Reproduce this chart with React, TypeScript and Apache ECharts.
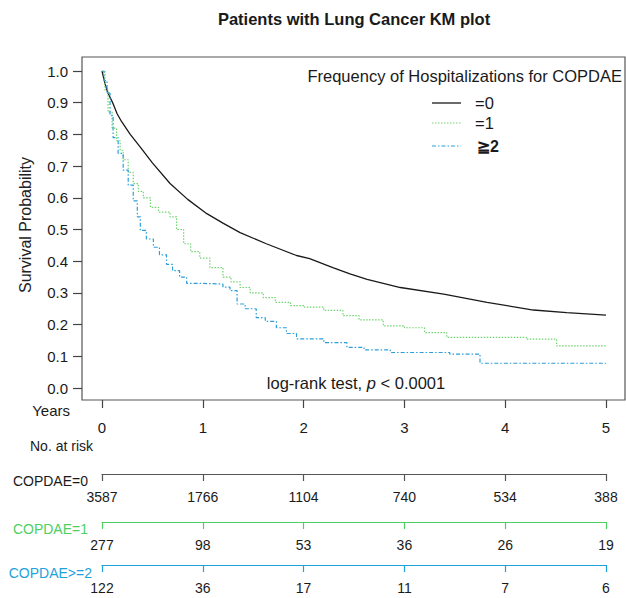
import React, { useEffect, useRef } from "react";
import * as echarts from "echarts";

// Kaplan-Meier curves
const tCopd0 = [0, 0.03, 0.06, 0.11, 0.15, 0.195, 0.28, 0.38, 0.5, 0.675, 0.85, 1.04, 1.2, 1.37, 1.63, 1.93, 2.06, 2.29, 2.46, 2.63, 2.96, 3.39, 3.82, 4.28, 4.61, 5.0];
const sCopd0 = [1.0, 0.96, 0.93, 0.897, 0.865, 0.84, 0.8, 0.76, 0.71, 0.645, 0.595, 0.55, 0.52, 0.49, 0.455, 0.418, 0.408, 0.38, 0.36, 0.343, 0.317, 0.296, 0.27, 0.246, 0.238, 0.23];

const tCopd1 = [0, 0.03, 0.06, 0.1, 0.145, 0.18, 0.21, 0.26, 0.31, 0.36, 0.41, 0.48, 0.56, 0.675, 0.74, 0.81, 0.88, 0.97, 1.07, 1.2, 1.28, 1.37, 1.47, 1.6, 1.72, 1.87, 2.0, 2.2, 2.39, 2.55, 2.79, 3.0, 3.2, 3.42, 4.21, 4.51, 5.0];
const sCopd1 = [1.0, 0.94, 0.87, 0.82, 0.78, 0.75, 0.72, 0.68, 0.645, 0.62, 0.6, 0.57, 0.555, 0.54, 0.5, 0.455, 0.43, 0.41, 0.38, 0.35, 0.335, 0.317, 0.3, 0.285, 0.27, 0.26, 0.255, 0.245, 0.228, 0.215, 0.196, 0.19, 0.175, 0.16, 0.154, 0.133, 0.133];

const tCopd2 = [0, 0.02, 0.05, 0.08, 0.11, 0.16, 0.21, 0.26, 0.31, 0.35, 0.38, 0.44, 0.51, 0.57, 0.64, 0.7, 0.77, 0.84, 1.0, 1.2, 1.27, 1.34, 1.42, 1.53, 1.62, 1.73, 1.83, 1.93, 2.2, 2.43, 2.6, 2.86, 3.45, 3.75, 5.0];
const sCopd2 = [1.0, 0.97, 0.93, 0.86, 0.79, 0.74, 0.687, 0.64, 0.59, 0.54, 0.497, 0.47, 0.444, 0.42, 0.39, 0.37, 0.35, 0.33, 0.328, 0.318, 0.307, 0.265, 0.25, 0.222, 0.21, 0.19, 0.172, 0.155, 0.143, 0.128, 0.12, 0.112, 0.107, 0.078, 0.078];

// Axis ticks
const yearTicks = [0, 1, 2, 3, 4, 5];
const probMin = 0;
const probMax = 1;
const probStep = 0.1;

// Number at risk table
const riskCopd0 = [3587, 1766, 1104, 740, 534, 388];
const riskCopd1 = [277, 98, 53, 36, 26, 19];
const riskCopd2 = [122, 36, 17, 11, 7, 6];

const seriesNames = ["=0", "=1", "≧2"];
const riskLabels = ["COPDAE=0", "COPDAE=1", "COPDAE>=2"];

const FONT = "Liberation Sans, Arial, sans-serif";
const BLACK = "#1a1a1a";
const GREEN = "#4fcf62";
const BLUE = "#1ea2dc";
const GREEN_LINE = "#6fd46f";
const BLUE_LINE = "#2b9fdc";

function pairs(t: number[], s: number[]) {
  return t.map((v, i) => [v, s[i]]);
}

export default function App() {
  const ref = useRef<HTMLDivElement>(null);
  useEffect(() => {
    if (!ref.current) return;
    const chart = echarts.init(ref.current, null, { renderer: "svg" });

    const yMin = yearTicks[0];
    const yMax = yearTicks[yearTicks.length - 1];
    const riskGrid = (bottomY: number) => ({ left: 102, width: 504, top: bottomY - 1, height: 1 });
    const riskAxis = (gridIndex: number, color: string, vals: number[]) => ({
      type: "value",
      gridIndex,
      min: yMin,
      max: yMax,
      interval: 1,
      position: "bottom",
      axisLine: { show: true, lineStyle: { color, width: 1.2 } },
      axisTick: { show: true, length: 7, lineStyle: { color, width: 1.2 } },
      splitLine: { show: false },
      axisLabel: {
        show: true,
        margin: 16,
        color: BLACK,
        fontSize: 14,
        fontFamily: FONT,
        formatter: (v: number) => String(vals[yearTicks.indexOf(Math.round(v))]),
      },
    });
    const hidden = (gridIndex: number, min: number, max: number) => ({ type: "value", gridIndex, show: false, min, max });

    const option: any = {
      animation: false,
      grid: [
        { left: 82, top: 57, width: 543, height: 343, show: true, borderColor: "#555", borderWidth: 1.2, backgroundColor: "transparent" },
        { left: 102, top: 71, width: 504, height: 317 },
        { left: 82, top: 71, width: 543, height: 317 },
        { left: 102, top: 57, width: 504, height: 343 },
        riskGrid(474),
        riskGrid(522),
        riskGrid(565),
      ],
      xAxis: [
        hidden(0, 0, 1),
        hidden(1, yMin, yMax),
        hidden(2, 0, 1),
        {
          type: "value",
          gridIndex: 3,
          min: yMin,
          max: yMax,
          interval: 1,
          position: "bottom",
          axisLine: { show: false },
          axisTick: { show: true, length: 8, lineStyle: { color: "#444", width: 1.2 } },
          splitLine: { show: false },
          axisLabel: { margin: 20, color: BLACK, fontSize: 15, fontFamily: FONT },
        },
        riskAxis(4, "#555", riskCopd0),
        riskAxis(5, GREEN, riskCopd1),
        riskAxis(6, BLUE, riskCopd2),
      ],
      yAxis: [
        hidden(0, 0, 1),
        hidden(1, probMin, probMax),
        {
          type: "value",
          gridIndex: 2,
          min: probMin,
          max: probMax,
          interval: probStep,
          position: "left",
          axisLine: { show: false },
          axisTick: { show: true, length: 9, lineStyle: { color: "#444", width: 1.2 } },
          splitLine: { show: false },
          axisLabel: { margin: 14, color: BLACK, fontSize: 15, fontFamily: FONT, formatter: (v: number) => v.toFixed(1) },
        },
        hidden(3, 0, 1),
        hidden(4, 0, 1),
        hidden(5, 0, 1),
        hidden(6, 0, 1),
      ],
      series: [
        {
          name: seriesNames[0],
          type: "line",
          xAxisIndex: 1,
          yAxisIndex: 1,
          data: pairs(tCopd0, sCopd0),
          showSymbol: false,
          symbol: "none",
          lineStyle: { color: BLACK, width: 1.3 },
        },
        {
          name: seriesNames[1],
          type: "line",
          xAxisIndex: 1,
          yAxisIndex: 1,
          data: pairs(tCopd1, sCopd1),
          showSymbol: false,
          symbol: "none",
          step: "end",
          lineStyle: { color: GREEN_LINE, width: 1.2, type: [1.5, 1.5] },
        },
        {
          name: seriesNames[2],
          type: "line",
          xAxisIndex: 1,
          yAxisIndex: 1,
          data: pairs(tCopd2, sCopd2),
          showSymbol: false,
          symbol: "none",
          step: "end",
          lineStyle: { color: BLUE_LINE, width: 1.2, type: [4, 2, 1.5, 2] },
        },
      ],
      graphic: [
        { type: "text", x: 354, y: 19, style: { text: "Patients with Lung Cancer KM plot", font: `bold 16.5px ${FONT}`, fill: BLACK, align: "center", verticalAlign: "middle" } },
        { type: "text", x: 25, y: 225, rotation: Math.PI / 2, style: { text: "Survival Probability", font: `16px ${FONT}`, fill: "#222", align: "center", verticalAlign: "middle" } },
        { type: "text", x: 70, y: 410, style: { text: "Years", font: `15px ${FONT}`, fill: BLACK, align: "right", verticalAlign: "middle" } },
        { type: "text", x: 30, y: 446, style: { text: "No. at risk", font: `14px ${FONT}`, fill: BLACK, align: "left", verticalAlign: "middle" } },
        { type: "text", x: 88, y: 481, style: { text: riskLabels[0], font: `14px ${FONT}`, fill: BLACK, align: "right", verticalAlign: "middle" } },
        { type: "text", x: 88, y: 529, style: { text: riskLabels[1], font: `14px ${FONT}`, fill: GREEN, align: "right", verticalAlign: "middle" } },
        { type: "text", x: 92, y: 573, style: { text: riskLabels[2], font: `14px ${FONT}`, fill: BLUE, align: "right", verticalAlign: "middle" } },
        // legend
        { type: "text", x: 622, y: 76, style: { text: "Frequency of Hospitalizations for COPDAE", font: `16.5px ${FONT}`, fill: BLACK, align: "right", verticalAlign: "middle" } },
        { type: "line", shape: { x1: 432, y1: 103, x2: 461, y2: 103 }, style: { stroke: BLACK, lineWidth: 1.3 } },
        { type: "line", shape: { x1: 432, y1: 123, x2: 461, y2: 123 }, style: { stroke: GREEN_LINE, lineWidth: 1.2, lineDash: [1.5, 1.5] } },
        { type: "line", shape: { x1: 432, y1: 146, x2: 461, y2: 146 }, style: { stroke: BLUE_LINE, lineWidth: 1.2, lineDash: [4, 2, 1.5, 2] } },
        { type: "text", x: 475, y: 103, style: { text: seriesNames[0], font: `16.5px ${FONT}`, fill: BLACK, align: "left", verticalAlign: "middle" } },
        { type: "text", x: 475, y: 123, style: { text: seriesNames[1], font: `16.5px ${FONT}`, fill: BLACK, align: "left", verticalAlign: "middle" } },
        { type: "text", x: 477, y: 146, style: { text: seriesNames[2], font: `bold 16px ${FONT}`, fill: BLACK, align: "left", verticalAlign: "middle" } },
        // log-rank
        {
          type: "text",
          x: 356,
          y: 383,
          style: {
            text: "{a|log-rank test, }{i|p}{a| < 0.0001}",
            align: "center",
            verticalAlign: "middle",
            rich: {
              a: { font: `16.5px ${FONT}`, fill: BLACK },
              i: { font: `italic 16.5px ${FONT}`, fill: BLACK },
            },
          },
        },
      ],
    };
    chart.setOption(option);
    return () => chart.dispose();
  }, []);
  return <div ref={ref} style={{ position: "fixed", left: 0, top: 0, width: 626, height: 598, background: "#fff" }} />;
}
